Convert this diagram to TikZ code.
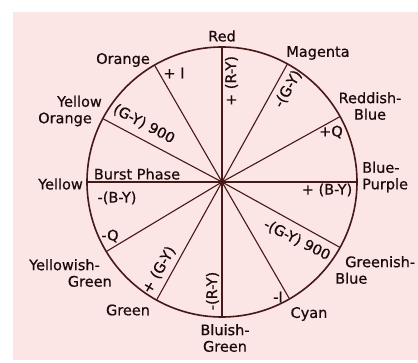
\documentclass[tikz,border=0pt]{standalone}
\usepackage{fontspec}
\setmainfont{DejaVu Sans}
\newfontfamily\wheelfont[FakeBold=0.6]{DejaVu Sans}
\usetikzlibrary{calc}
\definecolor{wheelpink}{RGB}{251,229,229}
\definecolor{wheelline}{RGB}{70,24,24}
\definecolor{wheeltext}{RGB}{28,10,10}
\begin{document}
\begin{tikzpicture}[x=1pt,y=1pt,
  lbl/.style={text=wheeltext,inner sep=1pt,font=\wheelfont\fontsize{14.5}{16.5}\selectfont},
  spoke/.style={draw=wheelline,line width=1.1pt}]
  \useasboundingbox (0,0) rectangle (418,362);
  \fill[wheelpink] (13,2) rectangle (418,350);
  % centre and rim points
  \coordinate (o) at (222,180);
  \foreach \n/\a in {red/90,mag/61,rb/29,bp/0,gb/-29,cy/-60,bg/-90,gr/-119,yg/-149,ye/180,yo/152,or/120}
    \coordinate (\n) at ($(o)+(\a:135)$);
  \draw[wheelline,line width=1.6pt] (o) circle[radius=135];
  \foreach \n in {red,mag,rb,bp,gb,cy,bg,gr,yg,ye,yo,or}
    \draw[spoke] (o) -- (\n);
  \fill[wheelline] (o) circle[radius=3];
  % hue names round the rim
  \node[lbl] (tred) at (222,326) {Red};
  \node[lbl] (tmag) at (318,309) {Magenta};
  \node[lbl,align=center] (trb) at (370,256) {Reddish-\\Blue};
  \node[lbl,align=left,anchor=west] (tbp) at (361,185) {Blue-\\Purple};
  \node[lbl,align=left,anchor=west] (tgb) at (334,92) {\hspace*{10pt}Greenish-\\Blue};
  \node[lbl] (tcy) at (309,48) {Cyan};
  \node[lbl,align=center] (tbg) at (225,24) {Bluish-\\Green};
  \node[lbl] (tgr) at (128,52) {Green};
  \node[lbl,align=right,anchor=east] (tyg) at (113,89) {Yellowish-\hspace*{12pt}\\Green};
  \node[lbl,anchor=east] (tye) at (84,178) {Yellow};
  \node[lbl,align=right,anchor=east] (tyo) at (103,251) {Yellow\\Orange\hspace*{10pt}};
  \node[lbl] (tor) at (123,302) {Orange};
  % signal axes inside
  \node[lbl,rotate=90] (ary) at (231.5,281) {+ (R-Y)};
  \node[lbl,rotate=60] (agy) at (288,273) {-(G-Y)};
  \node[lbl] (aq) at (331,230) {+Q};
  \node[lbl] (aby) at (327,172) {+ (B-Y)};
  \node[lbl,rotate=-27] (agy9) at (297,122) {-(G-Y) 900};
  \node[lbl] (ani) at (278,65) {-I};
  \node[lbl,rotate=90] (anry) at (212.5,71) {-(R-Y)};
  \node[lbl,rotate=60] (apgy) at (159,92) {+ (G-Y)};
  \node[lbl] (anq) at (110,126) {-Q};
  \node[lbl] (anby) at (117,164) {-(B-Y)};
  \node[lbl] (burst) at (137,188) {Burst Phase};
  \node[lbl,rotate=-28] (apgy9) at (144,238) {(G-Y) 900};
  \node[lbl] (api) at (174,289) {+ I};
\end{tikzpicture}
\end{document}
